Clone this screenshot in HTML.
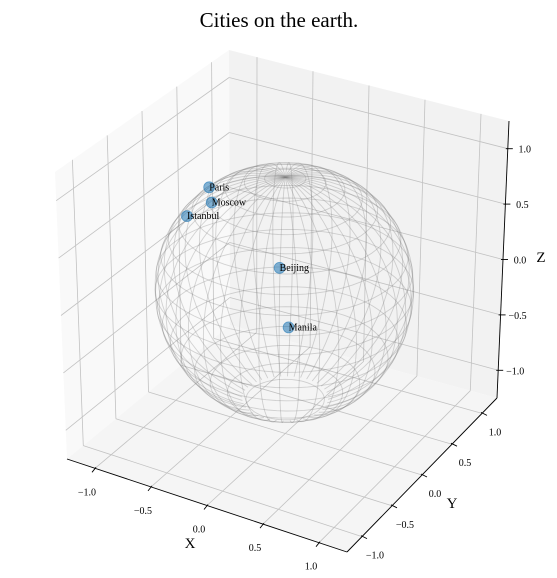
<!DOCTYPE html>
<html><head><meta charset="utf-8">
<style>
html,body{margin:0;padding:0;background:#fff;}
svg{display:block;font-family:"Liberation Serif","DejaVu Serif",serif;}
</style></head>
<body>
<svg id="chart" width="557" height="578" viewBox="0 0 557 578" xmlns="http://www.w3.org/2000/svg">
<text x="279" y="27" font-size="21" text-anchor="middle" fill="#000">Cities on the earth.</text>
<g id="panes"></g>
<g id="grid"></g>
<g id="axes"></g>
<g id="sphere"></g>
<g id="points"></g>
</svg>
<script>
const cityNames = ["Paris","Moscow","Istanbul","Beijing","Manila"];
const cityX = [-0.67,-0.71,-0.87,-0.05,0.03];
const cityY = [0.0,0.1,0.0,0.0,0.0];
const cityZ = [0.73,0.54,0.42,0.19,-0.31];
const xTicks = [-1,-0.5,0,0.5,1];
const yTicks = [-1,-0.5,0,0.5,1];
const zTicks = [-1,-0.5,0,0.5,1];
const xTickLabels = ["\u22121.0","\u22120.5","0.0","0.5","1.0"];
const yTickLabels = ["\u22121.0","\u22120.5","0.0","0.5","1.0"];
const zTickLabels = ["\u22121.0","\u22120.5","0.0","0.5","1.0"];

const L = 1.25;
const C = [[[[67,459],[55,172]],[[230,325],[229,50]]],
           [[[347,552],[348,252]],[[497,398],[509,121]]]];
function P(x,y,z){
  const tx=(x+L)/(2*L), ty=(y+L)/(2*L), tz=(z+L)/(2*L);
  let r=[0,0];
  for(let i=0;i<2;i++)for(let j=0;j<2;j++)for(let k=0;k<2;k++){
    const w=(i?tx:1-tx)*(j?ty:1-ty)*(k?tz:1-tz);
    r[0]+=w*C[i][j][k][0]; r[1]+=w*C[i][j][k][1];
  }
  return r;
}
const NS="http://www.w3.org/2000/svg";
function mk(tag,attrs,parent){const e=document.createElementNS(NS,tag);for(const k in attrs)e.setAttribute(k,attrs[k]);parent.appendChild(e);return e;}
function poly(pts){return pts.map(p=>p[0].toFixed(1)+","+p[1].toFixed(1)).join(" ");}

const panes=document.getElementById('panes');
let e;
e=mk('polygon',{points:poly([P(-L,-L,-L),P(-L,L,-L),P(-L,L,L),P(-L,-L,L)]),fill:'#f9f9f9'},panes);


e=mk('polygon',{points:poly([P(-L,L,-L),P(L,L,-L),P(L,L,L),P(-L,L,L)]),fill:'#f2f2f2'},panes);


e=mk('polygon',{points:poly([P(-L,-L,-L),P(L,-L,-L),P(L,L,-L),P(-L,L,-L)]),fill:'#f5f5f5'},panes);



const grid=document.getElementById('grid');
function gl(a,b,name){const l=mk('line',{x1:a[0],y1:a[1],x2:b[0],y2:b[1],stroke:'#c2c2c2','stroke-width':0.8},grid);

}
yTicks.forEach(y=>{gl(P(-L,y,-L),P(-L,y,L),'grid-line-y');gl(P(-L,y,-L),P(L,y,-L),'grid-line-y');});
zTicks.forEach(z=>{gl(P(-L,-L,z),P(-L,L,z),'grid-line-z');gl(P(-L,L,z),P(L,L,z),'grid-line-z');});
xTicks.forEach(x=>{gl(P(x,L,-L),P(x,L,L),'grid-line-x');gl(P(x,-L,-L),P(x,L,-L),'grid-line-x');});

const axes=document.getElementById('axes');
function al(a,b,name){const l=mk('line',{x1:a[0],y1:a[1],x2:b[0],y2:b[1],stroke:'#000','stroke-width':0.9},axes);

}
function tx(x,y,s,size,name,anchor){const t=mk('text',{x:x,y:y,'font-size':size,'text-anchor':anchor||'middle',fill:'#000'},axes);t.textContent=s;

}
al(P(-L,-L,-L),P(L,-L,-L),'x-axis-line');
al(P(L,-L,-L),P(L,L,-L),'y-axis-line');
al(P(L,L,-L),P(L,L,L),'z-axis-line');
xTicks.forEach((x,i)=>{const p=P(x,-L,-L);al([p[0]+1,p[1]-1],[p[0]-3,p[1]+4],'x-tick');tx(p[0]-8,p[1]+27,xTickLabels[i],10,'x-tick-label');});
yTicks.forEach((y,i)=>{const p=P(L,y,-L);al([p[0]-1,p[1]-1],[p[0]+5,p[1]+2],'y-tick');tx(p[0]+13,p[1]+22,yTickLabels[i],10,'y-tick-label');});
zTicks.forEach((z,i)=>{const p=P(L,L,z);al([p[0]-2,p[1]],[p[0]+5,p[1]],'z-tick');tx(p[0]+17,p[1]+4,zTickLabels[i],10,'z-tick-label');});
tx(190,548,'X',15,'x-axis-title');
tx(452,508,'Y',15,'y-axis-title');
tx(541,262,'Z',15,'z-axis-title');

const sph=document.getElementById('sphere');
const nMer=40, nPar=20;
for(let m=0;m<nMer;m++){
  const lon=2*Math.PI*m/nMer; const pts=[];
  for(let k=0;k<=40;k++){const th=Math.PI*k/40*0.89; pts.push(P(Math.sin(th)*Math.cos(lon),Math.sin(th)*Math.sin(lon),Math.cos(th)));}
  const pl=mk('polyline',{points:poly(pts),fill:'none',stroke:'#808080','stroke-opacity':0.32,'stroke-width':0.9},sph);
  
  
}
for(let k=1;k<nPar;k++){
  const th=Math.PI*k/nPar; if(th>Math.PI*0.9) continue; const pts=[];
  for(let s=0;s<=72;s++){const lon=2*Math.PI*s/72; pts.push(P(Math.sin(th)*Math.cos(lon),Math.sin(th)*Math.sin(lon),Math.cos(th)));}
  const pl=mk('polyline',{points:poly(pts),fill:'none',stroke:'#808080','stroke-opacity':0.32,'stroke-width':0.9},sph);
  
  
}

const ptsG=document.getElementById('points');
cityNames.forEach((n,i)=>{
  const p=P(cityX[i],cityY[i],cityZ[i]);
  const c=mk('circle',{cx:p[0].toFixed(1),cy:p[1].toFixed(1),r:5.5,fill:'#1f77b4','fill-opacity':0.55,stroke:'#1f77b4','stroke-opacity':0.6,'stroke-width':0.8},ptsG);
  
  
  const t=mk('text',{x:p[0].toFixed(1),y:(p[1]+3).toFixed(1),'font-size':10,fill:'#000'},ptsG);
  t.textContent=n;
  
  
});
</script>
</body></html>
